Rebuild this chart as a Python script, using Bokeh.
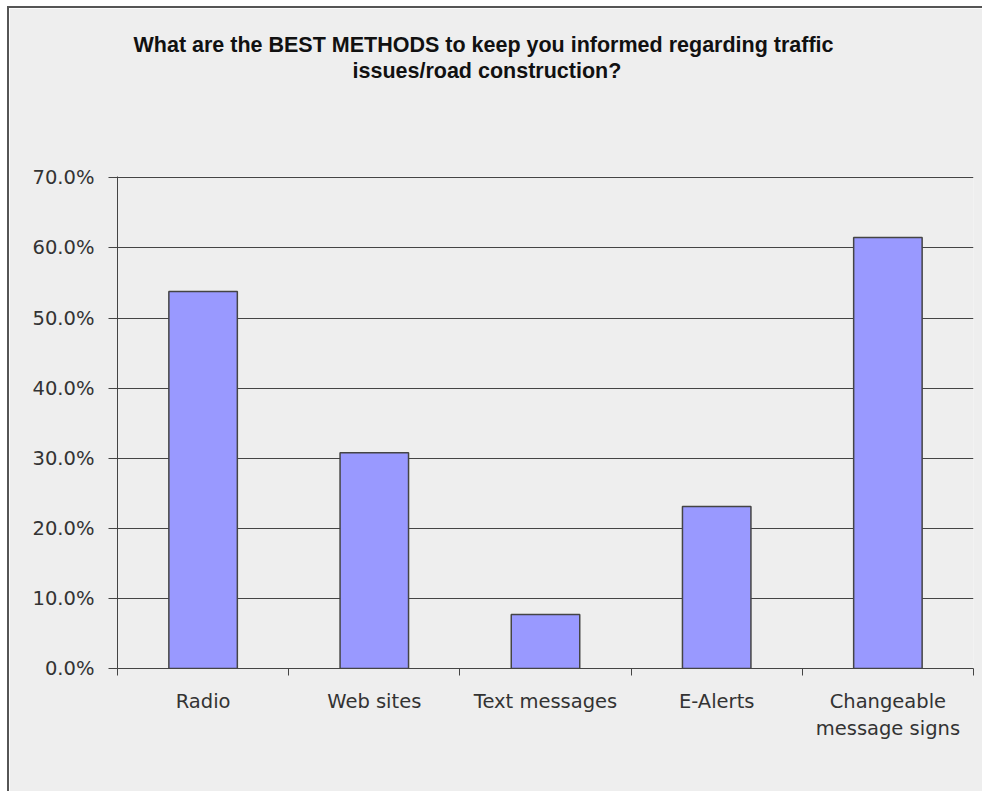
from bokeh.plotting import figure
from bokeh.models import Range1d, FixedTicker, PrintfTickFormatter, Title, ColumnDataSource
from bokeh.embed import file_html
from bokeh.resources import INLINE

categories = ["Radio", "Web sites", "Text messages", "E-Alerts", "Changeable\nmessage signs"]
values = [53.8, 30.8, 7.7, 23.1, 61.5]
y_ticks = [0, 10, 20, 30, 40, 50, 60, 70]
title_lines = ["What are the BEST METHODS to keep you informed regarding traffic",
               "issues/road construction?"]

xs = [i + 0.5 for i in range(len(categories))]
src = ColumnDataSource(dict(x=xs, top=values))

p = figure(width=975, height=785, output_backend="svg", toolbar_location=None,
           x_range=Range1d(0, len(categories)), y_range=Range1d(0, 70.2),
           min_border_left=108, min_border_right=11, min_border_top=168, min_border_bottom=125,
           title=None)
p.margin = (6, 0, 0, 7)
p.background_fill_color = "#EEEEEE"
p.border_fill_color = "#EEEEEE"
p.outline_line_color = None
p.styles = {"border-left": "2px solid #555555", "border-top": "2px solid #555555"}

p.vbar(x="x", top="top", width=0.4, source=src, fill_color="#9999FF",
       line_color="#444444", line_width=1.5)

# y axis
p.yaxis.ticker = FixedTicker(ticks=y_ticks, minor_ticks=[])
p.yaxis.formatter = PrintfTickFormatter(format="%.1f%%")
p.yaxis.major_tick_out = 9
p.yaxis.major_tick_in = 0
p.yaxis.major_label_standoff = 14
p.yaxis.axis_line_color = "#444444"
p.yaxis.major_tick_line_color = "#444444"
p.yaxis.major_label_text_font = "DejaVu Sans"
p.yaxis.major_label_text_font_size = "19.5px"
p.yaxis.major_label_text_color = "#333333"

# x axis: labels at centres, tick marks at boundaries (minor ticks)
p.xaxis.ticker = FixedTicker(ticks=xs, minor_ticks=list(range(len(categories) + 1)))
p.xaxis.major_label_overrides = {x: c for x, c in zip(xs, categories)}
p.xaxis.major_tick_out = 0
p.xaxis.major_tick_in = 0
p.xaxis.minor_tick_out = 7
p.xaxis.minor_tick_in = 0
p.xaxis.major_label_standoff = 14
p.xaxis.axis_line_color = "#444444"
p.xaxis.minor_tick_line_color = "#444444"
p.xaxis.major_label_text_font = "DejaVu Sans"
p.xaxis.major_label_text_font_size = "19.5px"
p.xaxis.major_label_text_color = "#333333"

p.xgrid.grid_line_color = None
p.ygrid.ticker = FixedTicker(ticks=y_ticks)
p.ygrid.grid_line_color = "#444444"
p.ygrid.grid_line_width = 1

# title: stacked panels above the frame; first added sits nearest the frame
spacer = Title(text=" ", standoff=81, text_font_size="10px", text_line_height=1.0,
               text_color="#EEEEEE")
p.add_layout(spacer, "above")
t2 = Title(text=title_lines[1], align="left", offset=235, standoff=0,
           text_font="Liberation Sans", text_font_size="21.5px", text_color="#111111",
           text_font_style="bold", text_line_height=1.12)
p.add_layout(t2, "above")
t1 = Title(text=title_lines[0], align="left", offset=16, standoff=0,
           text_font="Liberation Sans", text_font_size="21.5px", text_color="#111111",
           text_font_style="bold", text_line_height=1.12)
p.add_layout(t1, "above")

open("out.html", "w").write(file_html(p, INLINE))
